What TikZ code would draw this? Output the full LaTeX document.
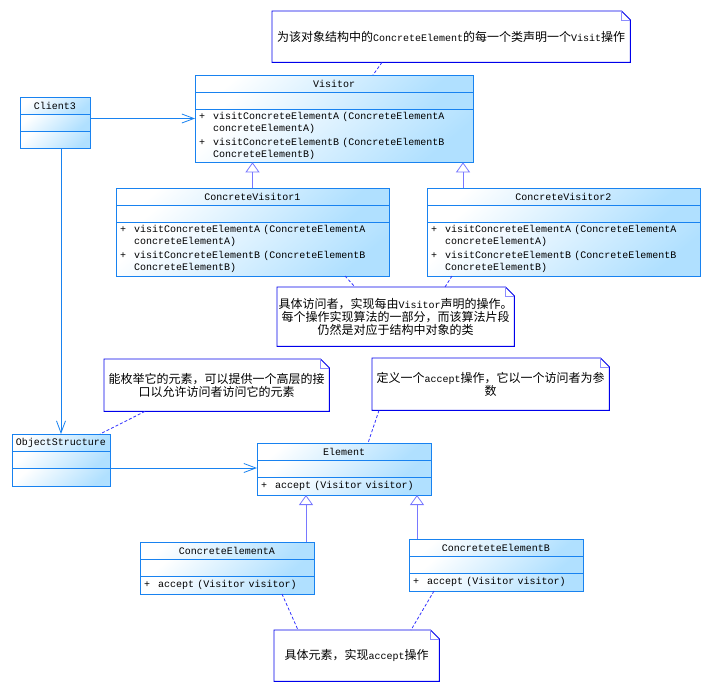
\documentclass[tikz,border=0pt]{standalone}
\usepackage{fontspec}
\setmainfont{Liberation Mono}
\newfontfamily\zhfont[Scale=1.2]{Noto Sans CJK SC}
\newcommand\zh[1]{{\zhfont #1}}
\newcommand\pl{+\hspace{8pt}}
\newcommand\hang{\hspace{14pt}}
\usetikzlibrary{arrows.meta, positioning}

\definecolor{umlblue}{RGB}{24,130,240}
\definecolor{umlfill}{RGB}{176,224,255}
\definecolor{noteblue}{RGB}{0,0,235}
\definecolor{foldblue}{RGB}{140,140,255}
\definecolor{genblue}{RGB}{120,120,255}
\definecolor{linkblue}{RGB}{50,50,255}

% contorno della nota con angolo piegato
\newcommand\drawnote[1]{%
  \draw[noteblue, line width=0.9pt] (#1.north west) -- ([xshift=-9pt]#1.north east)
    -- ([yshift=-9pt]#1.north east) -- (#1.south east) -- (#1.south west) -- cycle;
  \draw[foldblue, line width=0.6pt] ([xshift=-9pt]#1.north east)
    -- ([xshift=-9pt,yshift=-9pt]#1.north east) -- ([yshift=-9pt]#1.north east);
}

\begin{document}
\begin{tikzpicture}[x=1pt, y=-1pt,
    klass/.style={rectangle, draw=umlblue, line width=0.8pt, top color=white,
        bottom color=umlfill, shading angle=40, minimum height=17pt,
        inner sep=0pt, outer sep=0pt},
    ops/.style={klass, align=left, inner xsep=4pt, inner ysep=3pt},
    notebox/.style={rectangle, fill=white, inner sep=1pt, align=center,
        font=\fontsize{10}{13}\selectfont},
    assoc/.style={draw=umlblue, line width=0.8pt, -{Straight Barb[length=12pt,width=9pt]}},
    gen/.style={draw=genblue, line width=0.8pt, -{Triangle[open, length=10pt, width=14pt]}},
    link/.style={draw=linkblue, line width=0.8pt, dash pattern=on 3pt off 2pt}
]
\useasboundingbox (0,0) rectangle (704,694);

% Visitor
\node[klass, minimum width=278pt, anchor=north west] (visname) at (195,75) {Visitor};
\node[klass, minimum width=278pt, below=0pt of visname] (visattr) {};
\node[ops, text width=270pt, minimum height=53pt, below=0pt of visattr] (visops)
    {\pl visitConcreteElementA (ConcreteElementA\\\hang concreteElementA)\\[2pt]
     \pl visitConcreteElementB (ConcreteElementB\\\hang ConcreteElementB)};

% Client3
\node[klass, minimum width=70pt, anchor=north west] (c3name) at (20,97) {Client3};
\node[klass, minimum width=70pt, below=0pt of c3name] (c3attr) {};
\node[klass, minimum width=70pt, below=0pt of c3attr] (c3ops) {};

% ConcreteVisitor1 e 2
\node[klass, minimum width=273pt, anchor=north west] (cv1name) at (116,188) {ConcreteVisitor1};
\node[klass, minimum width=273pt, below=0pt of cv1name] (cv1attr) {};
\node[ops, text width=265pt, minimum height=54pt, below=0pt of cv1attr] (cv1ops)
    {\pl visitConcreteElementA (ConcreteElementA\\\hang concreteElementA)\\[2pt]
     \pl visitConcreteElementB (ConcreteElementB\\\hang ConcreteElementB)};

\node[klass, minimum width=273pt, anchor=north west] (cv2name) at (427,188) {ConcreteVisitor2};
\node[klass, minimum width=273pt, below=0pt of cv2name] (cv2attr) {};
\node[ops, text width=265pt, minimum height=54pt, below=0pt of cv2attr] (cv2ops)
    {\pl visitConcreteElementA (ConcreteElementA\\\hang concreteElementA)\\[2pt]
     \pl visitConcreteElementB (ConcreteElementB\\\hang ConcreteElementB)};

% ObjectStructure
\node[klass, minimum width=98pt, anchor=north west] (osname) at (12,434) {ObjectStructure};
\node[klass, minimum width=98pt, below=0pt of osname] (osattr) {};
\node[klass, minimum width=98pt, minimum height=18pt, below=0pt of osattr] (osops) {};

% Element
\node[klass, minimum width=174pt, anchor=north west] (elname) at (257,443) {Element};
\node[klass, minimum width=174pt, below=0pt of elname] (elattr) {};
\node[ops, text width=166pt, minimum height=18pt, inner ysep=0pt, below=0pt of elattr] (elops)
    {\pl accept (Visitor visitor)};

% ConcreteElementA e B
\node[klass, minimum width=174pt, anchor=north west] (ceaname) at (140,542) {ConcreteElementA};
\node[klass, minimum width=174pt, below=0pt of ceaname] (ceaattr) {};
\node[ops, text width=166pt, minimum height=18pt, inner ysep=0pt, below=0pt of ceaattr] (ceaops)
    {\pl accept (Visitor visitor)};

\node[klass, minimum width=174pt, anchor=north west] (cebname) at (409,539) {ConcreteteElementB};
\node[klass, minimum width=174pt, below=0pt of cebname] (cebattr) {};
\node[ops, text width=166pt, minimum height=18pt, inner ysep=0pt, below=0pt of cebattr] (cebops)
    {\pl accept (Visitor visitor)};

% Note
\node[notebox, minimum width=358pt, minimum height=51pt, anchor=north west] (n1) at (272,11)
    {\zh{为该对象结构中的}ConcreteElement\zh{的每一个类声明一个}Visit\zh{操作}};
\drawnote{n1}
\node[notebox, minimum width=237pt, minimum height=59pt, anchor=north west] (n2) at (277,287)
    {\zh{具体访问者，实现每由}Visitor\zh{声明的操作。}\\
     \zh{每个操作实现算法的一部分，而该算法片段}\\
     \zh{仍然是对应于结构中对象的类}};
\drawnote{n2}
\node[notebox, minimum width=225pt, minimum height=52pt, anchor=north west] (n3) at (104,359)
    {\zh{能枚举它的元素，可以提供一个高层的接}\\\zh{口以允许访问者访问它的元素}};
\drawnote{n3}
\node[notebox, minimum width=237pt, minimum height=52pt, anchor=north west] (n4) at (372,358)
    {\zh{定义一个}accept\zh{操作，它以一个访问者为参}\\\zh{数}};
\drawnote{n4}
\node[notebox, minimum width=165pt, minimum height=51pt, anchor=north west] (n5) at (274,630)
    {\zh{具体元素，实现}accept\zh{操作}};
\drawnote{n5}

% Associazioni
\coordinate (c3r) at ([yshift=4pt]c3attr.east);
\draw[assoc] (c3r) -- (c3r -| visops.west);
\coordinate (c3out) at ([xshift=6pt]c3ops.south);
\draw[assoc] (c3out) -- (c3out |- osname.north);
\draw[assoc] (osops.north east) -- (osops.north east -| elattr.west);

% Generalizzazioni
\draw[gen] (cv1name.north) -- (cv1name.north |- visops.south);
\coordinate (g2) at ([xshift=36pt]cv2name.north west);
\draw[gen] (g2) -- (g2 |- visops.south);
\coordinate (g3) at ([xshift=-8pt]ceaname.north east);
\draw[gen] (g3) -- (g3 |- elops.south);
\coordinate (g4) at ([xshift=8pt]cebname.north west);
\draw[gen] (g4) -- (g4 |- elops.south);

% Collegamenti alle note
\draw[link] ([xshift=110pt]n1.south west) -- ([xshift=178pt]visname.north west);
\draw[link] ([xshift=229pt]cv1ops.south west) -- ([xshift=78pt]n2.north west);
\draw[link] ([xshift=25pt]cv2ops.south west) -- ([xshift=168pt]n2.north west);
\draw[link] ([xshift=41pt]n3.south west) -- ([xshift=88pt]osname.north west);
\draw[link] ([xshift=7pt]n4.south west) -- ([xshift=111pt]elname.north west);
\draw[link] ([xshift=142pt]ceaops.south west) -- ([xshift=24pt]n5.north west);
\draw[link] ([xshift=25pt]cebops.south west) -- ([xshift=137pt]n5.north west);

\end{tikzpicture}
\end{document}
